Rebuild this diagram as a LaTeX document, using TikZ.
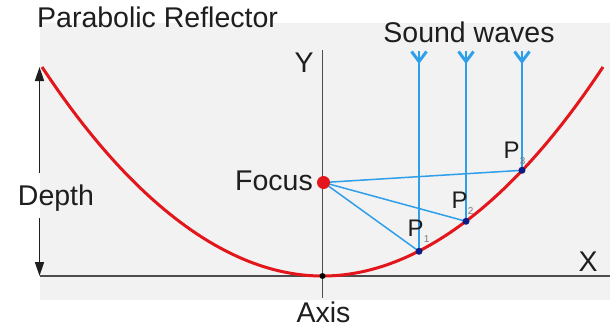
\documentclass[tikz,border=0pt]{standalone}
\usepackage{fontspec}
\setmainfont{Liberation Sans}
\usetikzlibrary{arrows.meta}
\definecolor{bggray}{HTML}{F2F2F2}
\definecolor{axisgray}{HTML}{4D4D4D}
\definecolor{redcurve}{HTML}{E3161B}
\definecolor{waveblue}{HTML}{2E9FEA}
\definecolor{navy}{HTML}{0B1C86}
\definecolor{txt}{HTML}{1E1E1E}
\definecolor{subgray}{HTML}{7A7A7A}
\begin{document}
\begin{tikzpicture}[x=1pt,y=-1pt,
  lbl/.style={inner sep=0pt, anchor=base, text=txt, font=\fontsize{28.5}{31}\selectfont},
  plbl/.style={inner sep=0pt, anchor=base, text=txt, font=\fontsize{24}{27}\selectfont},
  sublbl/.style={inner sep=0pt, anchor=west, text=subgray, font=\fontsize{10}{11}\selectfont},
  axisline/.style={draw=axisgray, line width=1.5pt},
  parab/.style={draw=redcurve, line width=3pt},
  wave/.style={draw=waveblue, line width=1.5pt},
  barb/.style={draw=waveblue, line width=1.5pt, -{Straight Barb[length=10pt,width=15pt,line width=3pt]}},
  depthline/.style={draw=txt, line width=1.5pt, -{Triangle[length=14pt,width=9pt]}},
  pdot/.style={circle, fill=navy, inner sep=0pt, minimum size=7pt},
]
\useasboundingbox (0,0) rectangle (612,327);
\fill[white] (0,0) rectangle (612,327);
\fill[bggray] (40,23) rectangle (610,300);

% coordinates
\coordinate (O) at (322.5,276);
\coordinate (F) at (323.5,182.5);
\coordinate (L) at (42,67);
\coordinate (R) at (603,67);
\coordinate (XL) at (40,276);
\coordinate (XR) at (610,276);
\coordinate (YT) at (322.5,50);
\coordinate (YB) at (322.5,298);

% axes
\draw[axisline] (XL) -- (XR);
\draw[axisline] (YT) -- (YB);

% parabola
\draw[parab] (L) parabola bend (O) (R);

% reflection points
\coordinate (P1) at (419,251.3);
\coordinate (P2) at (466,221.3);
\coordinate (P3) at (522,170.3);

% sound wave tops and arrow tips
\coordinate (W1) at (419,51);
\coordinate (W2) at (466,51);
\coordinate (W3) at (522,51);
\coordinate (H1) at (419,64);
\coordinate (H2) at (466,64);
\coordinate (H3) at (522,64);

\draw[wave] (W1) -- (P1);
\draw[wave] (W2) -- (P2);
\draw[wave] (W3) -- (P3);
\draw[barb] (W1) -- (H1);
\draw[barb] (W2) -- (H2);
\draw[barb] (W3) -- (H3);

\draw[wave] (F) -- (P1);
\draw[wave] (F) -- (P2);
\draw[wave] (F) -- (P3);

% dots
\node[pdot] (d1) at (P1) {};
\node[pdot] (d2) at (P2) {};
\node[pdot] (d3) at (P3) {};
\node[circle, fill=black, inner sep=0pt, minimum size=6pt] (vertex) at (O) {};
\node[circle, fill=redcurve, inner sep=0pt, minimum size=13pt] (focus) at (F) {};

% depth arrow
\coordinate (DT) at (39.5,67);
\coordinate (DB) at (39.5,276);
\coordinate (D1) at (39.5,173);
\coordinate (D2) at (39.5,218);
\draw[depthline] (D1) -- (DT);
\draw[depthline] (D2) -- (DB);

% labels
\node[lbl, anchor=base west] (title) at (37,27) {Parabolic Reflector};
\node[lbl] (sw) at (469,42) {Sound waves};
\node[lbl] (depth) at (56,205) {Depth};
\node[lbl] (focuslbl) at (274,190) {Focus};
\node[lbl] (ylbl) at (304,72) {Y};
\node[lbl] (xlbl) at (588,271) {X};
\node[lbl] (axislbl) at (323.5,322) {Axis};

\node[plbl] (p1lbl) at (415.5,236) {P};
\node[plbl] (p2lbl) at (459.5,208) {P};
\node[plbl] (p3lbl) at (511.5,158) {P};
\node[sublbl] (s1) at (p1lbl.base east) [yshift=-3pt] {1};
\node[sublbl] (s2) at (p2lbl.base east) [yshift=-3pt] {2};
\node[sublbl] (s3) at (p3lbl.base east) [yshift=-3pt] {3};
\end{tikzpicture}
\end{document}
